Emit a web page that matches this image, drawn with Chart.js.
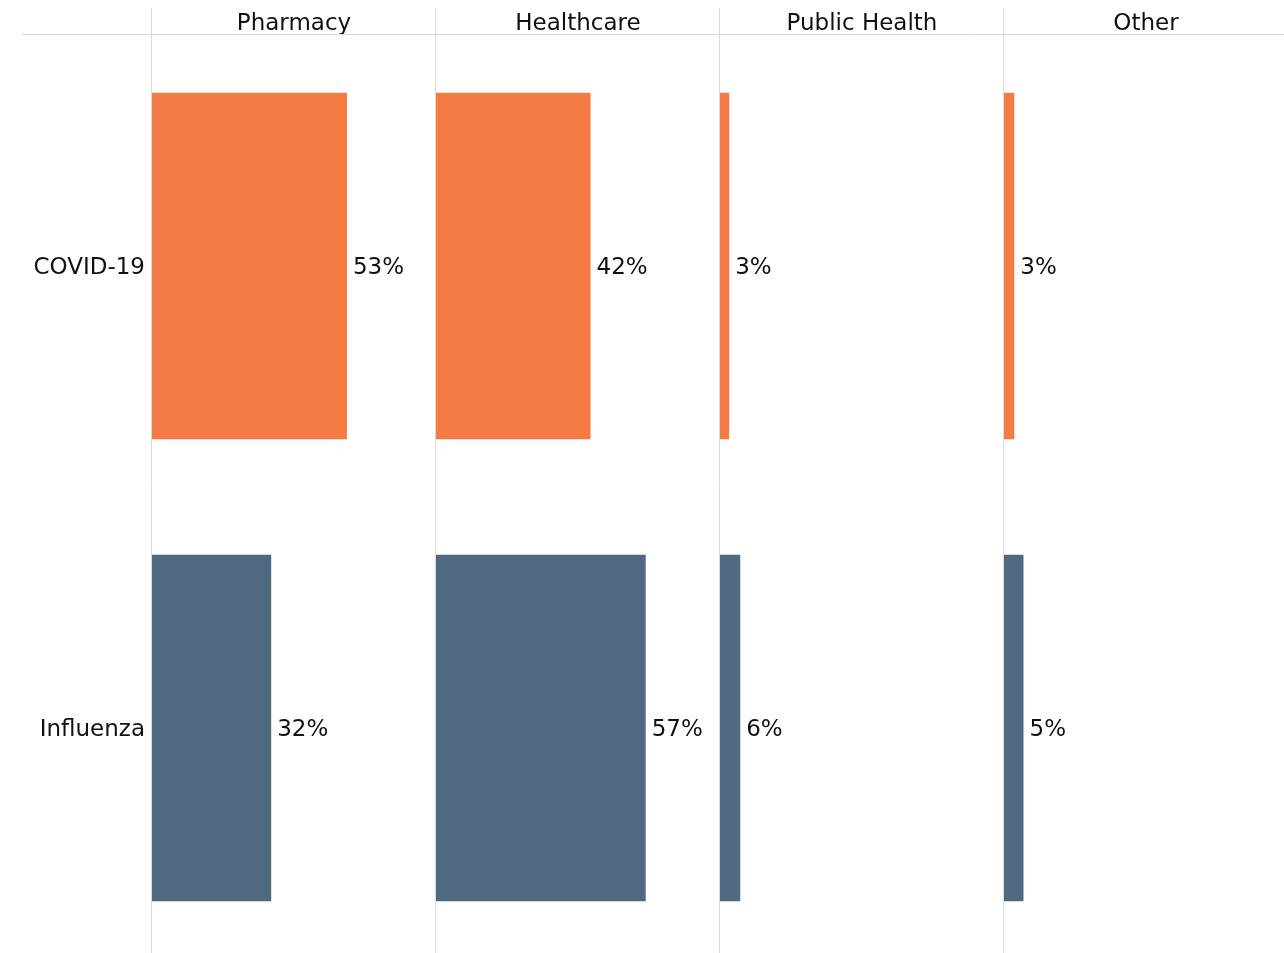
<!DOCTYPE html>
<html>
<head>
<meta charset="utf-8">
<title>Vaccination location</title>
<script src="https://cdn.jsdelivr.net/npm/chart.js@4"></script>
<style>
  html, body { margin: 0; padding: 0; background: #fff; overflow: hidden; }
  #wrap { width: 1284px; height: 953px; overflow: hidden; }
</style>
</head>
<body>
<div id="wrap"><canvas id="location-chart" width="1288" height="959"></canvas></div>
<script>
//the data (percent of people per place)
const places = ["Pharmacy", "Healthcare", "Public Health", "Other"];
const vaccines = ["COVID-19", "Influenza"];
const covidShare = [53, 42, 2.5, 2.8];
const fluShare = [32.4, 57, 5.5, 5.3];
const axisMax = 77.2;

const orange = "#f47b43";
const slate = "#4f6a80";
const lineGrey = "#d9d9d9";
const textColor = "#111111";
const fontFamily = "'DejaVu Sans', Verdana, sans-serif";
const fontSize = 23;

//separator lines between the panels and under the headers
const panelLines = {
    id: "panelLines",
    beforeDatasetsDraw(chart) {
        const {ctx, chartArea} = chart;
        ctx.save();
        ctx.strokeStyle = lineGrey;
        ctx.lineWidth = 1;
        ctx.beginPath();
        ctx.moveTo(22, chartArea.top - 0.5);
        ctx.lineTo(chart.width, chartArea.top - 0.5);
        places.forEach((p, i) => {
            const x = Math.round(chart.scales["x" + i].getPixelForValue(0)) - 0.5;
            ctx.moveTo(x, 8);
            ctx.lineTo(x, chart.height);
        });
        ctx.stroke();
        ctx.restore();
    }
};

//percent labels at the end of every bar
const barLabels = {
    id: "barLabels",
    afterDatasetsDraw(chart) {
        const ctx = chart.ctx;
        ctx.save();
        ctx.font = fontSize + "px " + fontFamily;
        ctx.fillStyle = textColor;
        ctx.textAlign = "left";
        ctx.textBaseline = "middle";
        chart.data.datasets.forEach((ds, i) => {
            chart.getDatasetMeta(i).data.forEach((bar, j) => {
                ctx.fillText(Math.round(ds.data[j]) + "%", bar.x + 6, bar.y + 2);
            });
        });
        ctx.restore();
    }
};

//one dataset and one x axis per place, the axes sit side by side
const datasets = places.map((place, i) => ({
    label: place,
    data: [covidShare[i], fluShare[i]],
    xAxisID: "x" + i,
    backgroundColor: [orange, slate],
    grouped: false,
    barPercentage: 0.75,
    categoryPercentage: 1
}));

const scales = {
    y: {
        type: "category",
        labels: vaccines,
        position: "left",
        offset: true,
        grid: {display: false, drawTicks: false},
        border: {display: false},
        ticks: {
            color: textColor,
            padding: 7,
            labelOffset: 2,
            font: {family: fontFamily, size: fontSize}
        },
        afterFit: (scale) => {
            scale.width = 152;
            //no extra room above/below, the rows fill the whole height
            scale.paddingTop = 0;
            scale.paddingBottom = 0;
        }
    }
};

places.forEach((place, i) => {
    scales["x" + i] = {
        type: "linear",
        axis: "x",
        position: "top",
        stack: "places",
        stackWeight: 1,
        //top boxes get placed from the highest weight, keeps the panel order
        weight: places.length - i,
        min: 0,
        max: axisMax,
        grid: {display: false, drawTicks: false},
        border: {display: false},
        ticks: {display: false},
        title: {
            display: true,
            text: place,
            color: textColor,
            padding: {top: 13, bottom: 0},
            font: {family: fontFamily, size: fontSize, lineHeight: "22px"}
        }
    };
});

new Chart("location-chart", {
    type: "bar",
    data: {labels: vaccines, datasets: datasets},
    options: {
        indexAxis: "y",
        responsive: false,
        animation: false,
        devicePixelRatio: 1,
        layout: {padding: 0},
        plugins: {
            legend: {display: false},
            tooltip: {enabled: false}
        },
        scales: scales
    },
    plugins: [panelLines, barLabels]
});
</script>
</body>
</html>
